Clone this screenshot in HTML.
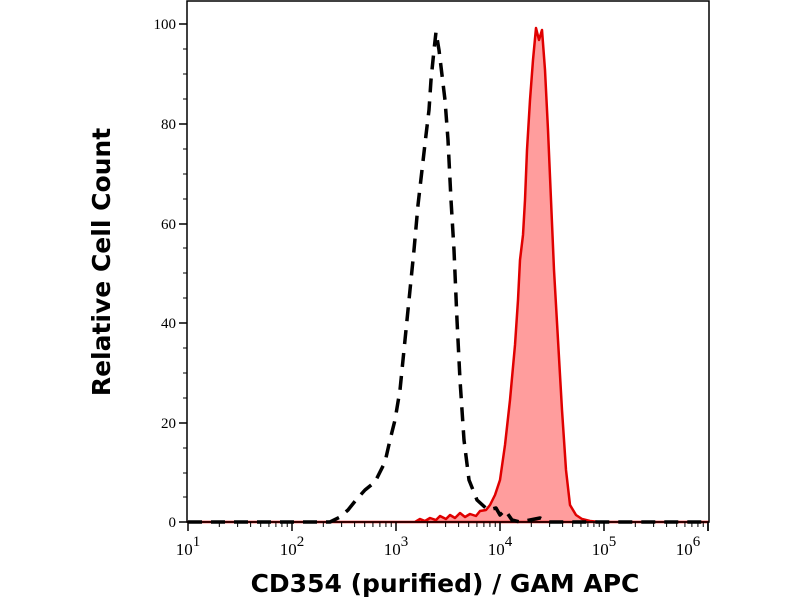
<!DOCTYPE html>
<html><head><meta charset="utf-8"><style>
html,body{margin:0;padding:0;background:#fff;width:800px;height:600px;overflow:hidden}
</style></head><body>
<svg width="800" height="600" viewBox="0 0 800 600" xmlns="http://www.w3.org/2000/svg">
<rect width="800" height="600" fill="#fff"/>
<path d="M188,522 L415,522 L420,519 L425,521 L430,518 L436,520 L440,516 L446,519 L450,515 L455,518 L460,513 L465,517 L470,514 L476,516 L480,511 L486,510 L490,505 L495,495 L500,480 L505,445 L510,400 L515,345 L518,300 L520,260 L523,235 L525,200 L527,150 L530,100 L533,60 L536,28 L539,40 L542,30 L545,70 L548,130 L551,200 L554,270 L558,340 L562,410 L566,470 L570,505 L576,515 L582,519 L590,521 L600,522 L708,522 Z" fill="#ff8c8c" fill-opacity="0.85" stroke="#e00000" stroke-width="2.5" stroke-linejoin="round"/>
<polyline points="188,522 330,522 340,517 348,510 356,500 365,490 375,482 385,462 390,440 395,420 400,390 405,340 410,290 414,250 418,205 422,170 426,135 429,110 431,80 434,50 436,32 439,50 442,75 445,100 448,140 451,200 454,250 457,320 460,380 464,440 469,480 477,500 488,510 496,508 500,515 505,510 512,520 520,522 540,518 548,522 708,522" fill="none" stroke="#000" stroke-width="3.5" stroke-dasharray="14,9" stroke-linejoin="round"/>
<rect x="187" y="1" width="522" height="521" fill="none" stroke="#000" stroke-width="1.5"/>
<g stroke="#000" stroke-width="1.5">
<line x1="179" y1="522" x2="187" y2="522"/><line x1="179" y1="423" x2="187" y2="423"/><line x1="179" y1="323" x2="187" y2="323"/><line x1="179" y1="224" x2="187" y2="224"/><line x1="179" y1="124" x2="187" y2="124"/><line x1="179" y1="24" x2="187" y2="24"/>
</g>
<g stroke="#000" stroke-width="1">
<line x1="183" y1="497" x2="187" y2="497"/><line x1="183" y1="473" x2="187" y2="473"/><line x1="183" y1="448" x2="187" y2="448"/>
<line x1="183" y1="398" x2="187" y2="398"/><line x1="183" y1="373" x2="187" y2="373"/><line x1="183" y1="348" x2="187" y2="348"/>
<line x1="183" y1="298" x2="187" y2="298"/><line x1="183" y1="273" x2="187" y2="273"/><line x1="183" y1="248" x2="187" y2="248"/>
<line x1="183" y1="199" x2="187" y2="199"/><line x1="183" y1="174" x2="187" y2="174"/><line x1="183" y1="149" x2="187" y2="149"/>
<line x1="183" y1="99" x2="187" y2="99"/><line x1="183" y1="74" x2="187" y2="74"/><line x1="183" y1="49" x2="187" y2="49"/>
</g>
<g id="xt" stroke="#000"></g>
<g font-family="Liberation Serif, serif" font-size="15" fill="#000" text-anchor="end">
<text x="176" y="527">0</text><text x="176" y="428">20</text><text x="176" y="328">40</text><text x="176" y="229">60</text><text x="176" y="129">80</text><text x="176" y="29">100</text>
</g>
<g font-family="Liberation Serif, serif" font-size="17" fill="#000" text-anchor="middle">
<text x="188" y="555">10<tspan dy="-9" font-size="15">1</tspan></text>
<text x="292" y="555">10<tspan dy="-9" font-size="15">2</tspan></text>
<text x="396" y="555">10<tspan dy="-9" font-size="15">3</tspan></text>
<text x="500" y="555">10<tspan dy="-9" font-size="15">4</tspan></text>
<text x="604" y="555">10<tspan dy="-9" font-size="15">5</tspan></text>
<text x="688" y="555">10<tspan dy="-9" font-size="15">6</tspan></text>
</g>
<text x="445" y="592" font-family="DejaVu Sans, sans-serif" font-weight="bold" font-size="25" text-anchor="middle">CD354 (purified) / GAM APC</text>
<text transform="translate(110,262) rotate(-90)" font-family="DejaVu Sans, sans-serif" font-weight="bold" font-size="25" text-anchor="middle">Relative Cell Count</text>
</svg>
<script>
var g=document.getElementById('xt'),s='';
for(var d=0;d<6;d++){var x0=188+104*d;
s+='<line x1="'+x0+'" y1="522" x2="'+x0+'" y2="531" stroke-width="1.5"/>';
if(d<5)for(var k=2;k<10;k++){var x=x0+104*Math.log10(k);s+='<line x1="'+x+'" y1="522" x2="'+x+'" y2="527" stroke-width="1"/>';}}
s+='<line x1="708" y1="522" x2="708" y2="531" stroke-width="1.5"/>';
g.innerHTML=s;
</script>
</body></html>
